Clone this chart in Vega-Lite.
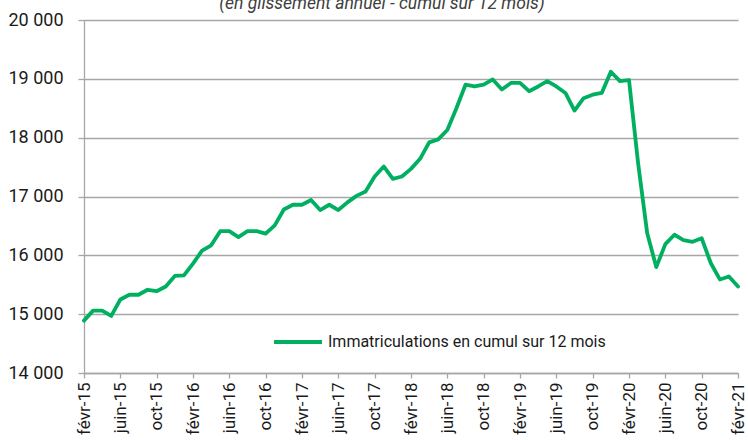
{
  "$schema": "https://vega.github.io/schema/vega-lite/v6.json",
  "autosize": "none",
  "padding": {"left": 84, "top": 20, "right": 10, "bottom": 67},
  "width": 654,
  "height": 353,
  "background": "white",
  "title": {
    "text": "(en glissement annuel - cumul sur 12 mois)",
    "fontStyle": "italic",
    "fontWeight": "normal",
    "font": "Roboto",
    "fontSize": 17.5,
    "color": "#404040",
    "anchor": "middle",
    "frame": "group",
    "dx": -29,
    "baseline": "alphabetic",
    "offset": 0,
    "dy": 15
  },
  "data": {
    "values": [
      {"mois": "févr-15", "valeur": 14890},
      {"mois": "mars-15", "valeur": 15060},
      {"mois": "avr-15", "valeur": 15060},
      {"mois": "mai-15", "valeur": 14970},
      {"mois": "juin-15", "valeur": 15250},
      {"mois": "juil-15", "valeur": 15330},
      {"mois": "août-15", "valeur": 15330},
      {"mois": "sept-15", "valeur": 15415},
      {"mois": "oct-15", "valeur": 15390},
      {"mois": "nov-15", "valeur": 15470},
      {"mois": "déc-15", "valeur": 15650},
      {"mois": "janv-16", "valeur": 15660},
      {"mois": "févr-16", "valeur": 15860},
      {"mois": "mars-16", "valeur": 16080},
      {"mois": "avr-16", "valeur": 16170},
      {"mois": "mai-16", "valeur": 16410},
      {"mois": "juin-16", "valeur": 16410},
      {"mois": "juil-16", "valeur": 16310},
      {"mois": "août-16", "valeur": 16410},
      {"mois": "sept-16", "valeur": 16410},
      {"mois": "oct-16", "valeur": 16370},
      {"mois": "nov-16", "valeur": 16510},
      {"mois": "déc-16", "valeur": 16780},
      {"mois": "janv-17", "valeur": 16860},
      {"mois": "févr-17", "valeur": 16860},
      {"mois": "mars-17", "valeur": 16940},
      {"mois": "avr-17", "valeur": 16770},
      {"mois": "mai-17", "valeur": 16860},
      {"mois": "juin-17", "valeur": 16770},
      {"mois": "juil-17", "valeur": 16900},
      {"mois": "août-17", "valeur": 17010},
      {"mois": "sept-17", "valeur": 17085},
      {"mois": "oct-17", "valeur": 17340},
      {"mois": "nov-17", "valeur": 17510},
      {"mois": "déc-17", "valeur": 17300},
      {"mois": "janv-18", "valeur": 17340},
      {"mois": "févr-18", "valeur": 17470},
      {"mois": "mars-18", "valeur": 17640},
      {"mois": "avr-18", "valeur": 17920},
      {"mois": "mai-18", "valeur": 17970},
      {"mois": "juin-18", "valeur": 18130},
      {"mois": "juil-18", "valeur": 18500},
      {"mois": "août-18", "valeur": 18900},
      {"mois": "sept-18", "valeur": 18870},
      {"mois": "oct-18", "valeur": 18900},
      {"mois": "nov-18", "valeur": 18990},
      {"mois": "déc-18", "valeur": 18820},
      {"mois": "janv-19", "valeur": 18930},
      {"mois": "févr-19", "valeur": 18930},
      {"mois": "mars-19", "valeur": 18790},
      {"mois": "avr-19", "valeur": 18870},
      {"mois": "mai-19", "valeur": 18960},
      {"mois": "juin-19", "valeur": 18870},
      {"mois": "juil-19", "valeur": 18760},
      {"mois": "août-19", "valeur": 18460},
      {"mois": "sept-19", "valeur": 18670},
      {"mois": "oct-19", "valeur": 18730},
      {"mois": "nov-19", "valeur": 18760},
      {"mois": "déc-19", "valeur": 19120},
      {"mois": "janv-20", "valeur": 18960},
      {"mois": "févr-20", "valeur": 18980},
      {"mois": "mars-20", "valeur": 17570},
      {"mois": "avr-20", "valeur": 16380},
      {"mois": "mai-20", "valeur": 15800},
      {"mois": "juin-20", "valeur": 16190},
      {"mois": "juil-20", "valeur": 16350},
      {"mois": "août-20", "valeur": 16260},
      {"mois": "sept-20", "valeur": 16230},
      {"mois": "oct-20", "valeur": 16290},
      {"mois": "nov-20", "valeur": 15870},
      {"mois": "déc-20", "valeur": 15590},
      {"mois": "janv-21", "valeur": 15640},
      {"mois": "févr-21", "valeur": 15470}
    ]
  },
  "transform": [{"calculate": "'Immatriculations en cumul sur 12 mois'", "as": "serie"}],
  "mark": {"type": "line", "strokeWidth": 3.8, "strokeJoin": "round", "strokeCap": "round"},
  "encoding": {
    "x": {
      "field": "mois",
      "type": "ordinal",
      "sort": null,
      "scale": {"type": "point", "padding": 0},
      "axis": {
        "title": null,
        "values": ["févr-15","juin-15","oct-15","févr-16","juin-16","oct-16","févr-17","juin-17","oct-17","févr-18","juin-18","oct-18","févr-19","juin-19","oct-19","févr-20","juin-20","oct-20","févr-21"],
        "labelAngle": -90,
        "labelFont": "Roboto",
        "labelFontSize": 17,
        "labelColor": "#1a1a1a",
        "labelPadding": 4,
        "tickSize": 5,
        "tickColor": "#a6a6a6",
        "tickWidth": 1.3,
        "domainColor": "#a6a6a6",
        "domainWidth": 1.3,
        "grid": false
      }
    },
    "y": {
      "field": "valeur",
      "type": "quantitative",
      "scale": {"domain": [14000, 20000], "nice": false, "zero": false},
      "axis": {
        "title": null,
        "values": [14000, 15000, 16000, 17000, 18000, 19000, 20000],
        "labelExpr": "replace(format(datum.value, ','), ',', ' ')",
        "labelFont": "Roboto",
        "labelFontSize": 18,
        "labelColor": "#1a1a1a",
        "labelPadding": 15,
        "tickSize": 6,
        "tickColor": "#a6a6a6",
        "tickWidth": 1.3,
        "domainColor": "#a6a6a6",
        "domainWidth": 1.3,
        "grid": true,
        "gridColor": "#a6a6a6",
        "gridWidth": 1.3
      }
    },
    "color": {
      "field": "serie",
      "type": "nominal",
      "scale": {"range": ["#00b060"]},
      "legend": {
        "title": null,
        "orient": "none",
        "legendX": 188,
        "legendY": 296,
        "symbolType": "stroke",
        "symbolSize": 2304,
        "symbolStrokeWidth": 4,
        "labelFont": "Roboto",
        "labelFontSize": 16,
        "labelColor": "#1a1a1a",
        "labelOffset": 4,
        "labelLimit": 400
      }
    }
  },
  "config": {"view": {"stroke": null}}
}
